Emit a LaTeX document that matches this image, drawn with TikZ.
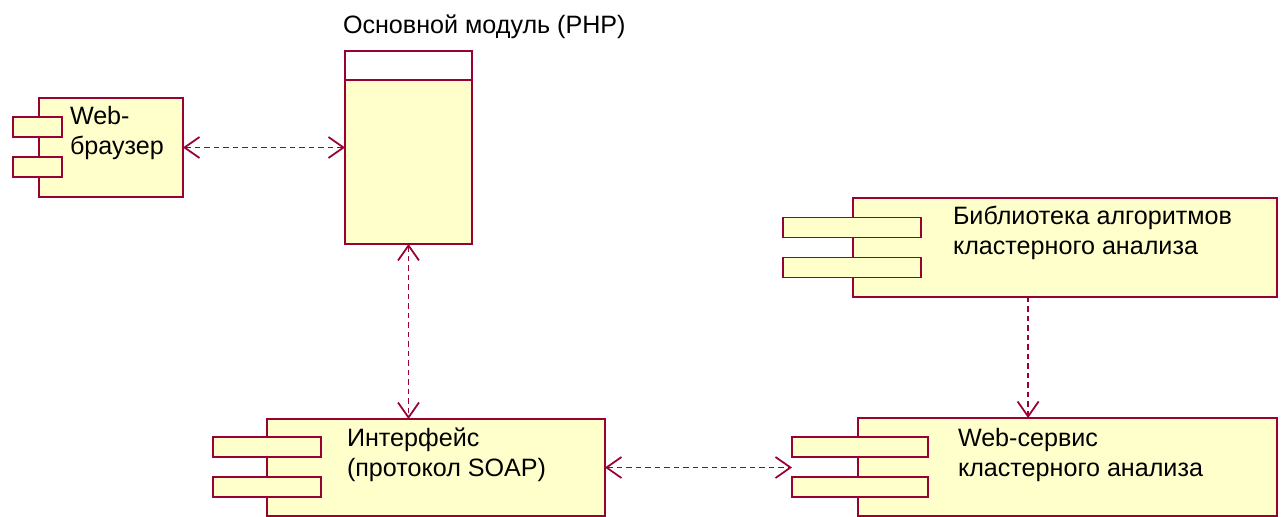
\documentclass[tikz,border=0pt]{standalone}
\usepackage{fontspec}
\setmainfont{Liberation Sans}
\usetikzlibrary{positioning, arrows.meta, calc}

\definecolor{roseline}{RGB}{153,0,51}
\definecolor{rosefill}{RGB}{255,255,204}

\begin{document}
\begin{tikzpicture}
[
    x = 0.02cm, y = -0.02cm,
    every node/.style = {inner sep = 0pt, outer sep = 0pt},
    > = {Straight Barb[length = 0.3cm, width = 0.42cm]},
    ComponentStyle/.style = {rectangle, draw = roseline, fill = rosefill, line width = 1.1pt},
    PortStyle/.style = {ComponentStyle, minimum height = 0.4cm},
    LabelStyle/.style = {anchor = north west, align = left, text = black,
                         font = \fontsize{14.3}{17.1}\selectfont},
    DepStyle/.style = {draw = roseline, line width = 1pt,
                       dash pattern = on 0.11cm off 0.08cm}
  ]
  \useasboundingbox (0,0) rectangle (1281,517);

  % web browser
  \node[ComponentStyle, minimum width = 2.88cm, minimum height = 1.98cm] (browser) at (111,147.5) {};
  \node[PortStyle, minimum width = 0.98cm] (browser1) at (37.5,127) {};
  \node[PortStyle, minimum width = 0.98cm, below = 0.4cm of browser1] (browser2) {};
  \node[LabelStyle] (browsertext) at (70,106) {Web-\\браузер};

  % main module
  \node[ComponentStyle, fill = white, minimum width = 2.54cm, minimum height = 0.58cm] (mainhead) at (408.5,65.5) {};
  \node[ComponentStyle, minimum width = 2.54cm, minimum height = 3.28cm, below = 0pt of mainhead] (main) {};
  \node[LabelStyle] (maintext) at (343,15) {Основной модуль (PHP)};

  % SOAP interface
  \node[ComponentStyle, minimum width = 6.76cm, minimum height = 1.94cm] (iface) at (436,467.5) {};
  \node[PortStyle, minimum width = 2.16cm] (iface1) at (267,447) {};
  \node[PortStyle, minimum width = 2.16cm, below = 0.4cm of iface1] (iface2) {};
  \node[LabelStyle] (ifacetext) at (347,428) {Интерфейс\\(протокол SOAP)};

  % algorithm library
  \node[ComponentStyle, minimum width = 8.48cm, minimum height = 1.98cm] (lib) at (1065,247.5) {};
  \node[PortStyle, minimum width = 2.76cm] (lib1) at (852,227.5) {};
  \node[PortStyle, minimum width = 2.76cm, below = 0.4cm of lib1] (lib2) {};
  \node[LabelStyle] (libtext) at (953,206) {Библиотека алгоритмов\\кластерного анализа};

  % web service
  \node[ComponentStyle, minimum width = 8.38cm, minimum height = 1.96cm] (ws) at (1067.5,467) {};
  \node[PortStyle, minimum width = 2.72cm] (ws1) at (860,447) {};
  \node[PortStyle, minimum width = 2.72cm, below = 0.4cm of ws1] (ws2) {};
  \node[LabelStyle] (wstext) at (958,428) {Web-сервис\\кластерного анализа};

  % dependencies
  \draw[DepStyle, <->] (browser.east) -- (browser.east -| main.west);
  \draw[DepStyle, <->] (main.south) -- (main.south |- iface.north);
  \draw[DepStyle, <->] (iface.east) -- (iface.east -| ws1.west);
  \coordinate (libout) at ($(lib.south west)!0.413!(lib.south east)$);
  \draw[DepStyle, ->] (libout) -- (libout |- ws.north);
\end{tikzpicture}
\end{document}
